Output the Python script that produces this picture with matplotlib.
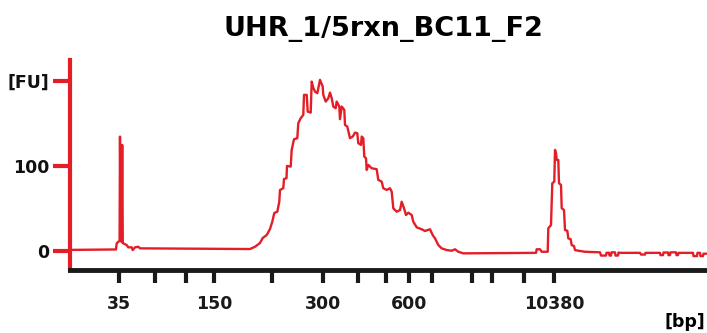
import matplotlib
matplotlib.use("Agg")
import matplotlib.pyplot as plt

# electropherogram trace: migration time (s) vs fluorescence (FU)
time_s = [37.2, 41.6, 41.67, 41.83, 41.96, 42.0, 42.06, 42.16, 42.22, 42.28, 42.33,
          42.67, 42.83, 43.17, 43.27, 43.5, 43.83, 44.0, 55.0, 55.5, 56.0, 56.27,
          56.67, 57.0, 57.23, 57.43, 57.73, 57.93, 58.0, 58.33, 58.4, 58.65, 58.7,
          59.07, 59.17, 59.4, 59.73, 59.83, 60.07, 60.33, 60.4, 60.67, 60.77, 61.07,
          61.17, 61.33, 61.5, 61.73, 62.0, 62.27, 62.33, 62.57, 62.83, 63.0, 63.17,
          63.33, 63.57, 63.67, 63.93, 64.0, 64.17, 64.43, 64.5, 64.73, 65.0, 65.27,
          65.5, 65.73, 65.83, 66.1, 66.17, 66.33, 66.43, 66.6, 66.67, 66.83, 67.17,
          67.67, 67.83, 68.17, 68.33, 68.67, 69.0, 69.17, 69.33, 69.67, 70.0, 70.17,
          70.4, 70.6, 70.83, 71.17, 71.33, 71.67, 72.17, 72.5, 73.0, 73.27, 73.5,
          73.83, 74.17, 74.67, 75.17, 75.5, 75.83, 76.33, 83.6, 83.67, 84.0, 84.17,
          84.77, 84.83, 85.1, 85.23, 85.43, 85.5, 85.6, 85.67, 85.83, 85.9, 86.1,
          86.17, 86.4, 86.5, 86.73, 86.83, 87.07, 87.17, 87.4, 87.5, 87.83, 88.5,
          90.0, 90.1, 90.6, 90.65, 90.9, 90.95, 91.1, 91.15, 91.5, 91.55, 91.8,
          91.85, 92.0, 94.0, 94.1, 94.5, 94.55, 96.0, 96.05, 96.3, 96.35, 96.8,
          96.85, 97.0, 97.05, 97.6, 97.65, 97.8, 97.85, 99.3, 99.35, 99.7, 99.75,
          100.0, 100.05, 100.3, 100.35, 100.7]
fu = [1.0, 1.5, 8.7, 10.6, 11.5, 134.6, 12.6, 10.3, 124.8, 9.1, 8.7,
      6.7, 4.0, 4.0, 0.8, 4.0, 4.7, 2.8, 2.0, 4.7, 9.1, 15.0,
      18.5, 25.6, 34.2, 44.5, 46.0, 57.8, 71.6, 73.7, 84.6, 85.5, 100.0,
      99.2, 118.9, 131.5, 132.7, 150.4, 156.3, 160.2, 183.8, 183.8, 164.1, 162.9,
      199.5, 192.0, 187.7, 185.8, 201.5, 193.6, 183.8, 175.9, 179.9, 186.5, 179.9,
      170.0, 168.1, 175.9, 170.0, 155.1, 170.0, 166.1, 148.4, 146.4, 132.7, 134.6,
      139.3, 138.6, 126.8, 124.8, 134.6, 132.7, 111.0, 109.1, 95.3, 101.2, 97.3,
      96.1, 83.5, 81.5, 73.7, 71.7, 73.7, 69.7, 50.1, 46.0, 48.0, 57.8,
      50.1, 42.1, 44.9, 42.1, 34.2, 27.6, 25.3, 23.3, 25.3, 18.5, 14.6,
      6.7, 2.8, 0.8, 0.0, 1.7, -1.2, -3.1, -2.5, 1.7, 1.7, -1.2,
      -1.2, 26.4, 30.3, 79.6, 81.5, 118.9, 115.0, 107.1, 107.1, 79.6, 77.6,
      50.1, 48.0, 24.4, 23.6, 14.6, 13.5, 6.7, 5.5, 0.8, 0.0, -1.2,
      -1.9, -5.7, -5.7, -2.4, -2.4, -5.7, -5.7, -1.9, -1.9, -5.7, -5.7,
      -2.1, -2.5, -2.5, -4.5, -4.5, -2.5, -2.5, -5.2, -5.2, -2.1, -2.1,
      -5.2, -5.2, -1.9, -1.9, -5.2, -5.2, -2.5, -2.5, -6.3, -6.3, -2.5,
      -2.5, -6.3, -6.3, -3.5, -3.5]

# ladder positions (s) and sizes (bp)
ladder_time = [41.9, 45.5, 48.6, 51.4, 57.2, 62.3, 65.8, 68.6, 70.9, 73.2, 77.2, 79.2, 82.4, 85.4]
ladder_bp = ["35", "", "", "150", "", "300", "", "", "600", "", "", "", "", "10380"]

fu_ticks = [0, 100, 200]
fu_labels = ["0", "100", "[FU]"]

red = "#e31e27"
font = "DejaVu Sans"

fig = plt.figure(figsize=(7.07, 3.33), dpi=100)
ax = fig.add_axes([0.099, 0.189, 0.901, 0.631])

ax.plot(time_s, fu, color=red, lw=1.7)

ax.set_xlim(37.0, 100.7)
ax.set_ylim(-22.8, 225)

for s in ["top", "right"]:
    ax.spines[s].set_visible(False)
ax.spines["left"].set_color(red)
ax.spines["left"].set_linewidth(3)
ax.spines["bottom"].set_color("#1a1a1a")
ax.spines["bottom"].set_linewidth(3.5)

ax.set_yticks(fu_ticks)
ax.set_yticklabels(fu_labels, fontweight="bold", fontsize=12.5, family=font)
ax.tick_params(axis="y", colors=red, length=12, width=3, pad=3, labelcolor="#111111")

ax.set_xticks(ladder_time)
ax.set_xticklabels(ladder_bp, fontweight="bold", fontsize=12.5, family=font)
ax.tick_params(axis="x", colors="#1a1a1a", length=9, width=3, pad=9)

fig.text(0.542, 0.914, "UHR_1/5rxn_BC11_F2", ha="center", va="center",
         fontsize=19.5, fontweight="bold", family=font)
fig.text(0.998, 0.032, "[bp]", ha="right", va="center",
         fontsize=12.5, fontweight="bold", family=font)

fig.savefig("out.png", dpi=100)
